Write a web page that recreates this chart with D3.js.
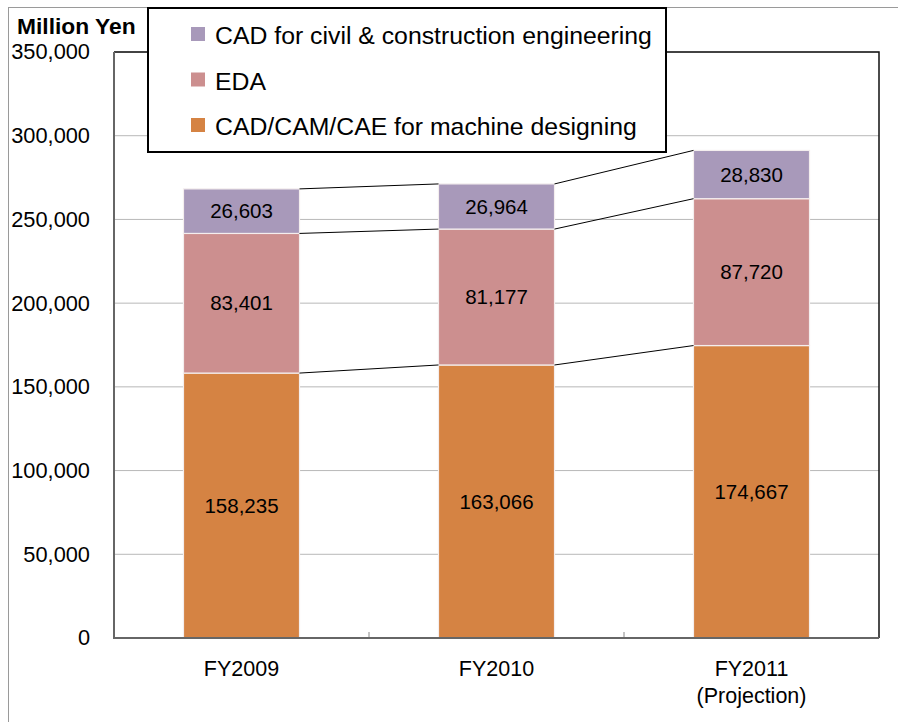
<!DOCTYPE html>
<html>
<head>
<meta charset="utf-8">
<script src="https://cdn.jsdelivr.net/npm/d3@7"></script>
<style>
  body { margin: 0; background: #fff; }
  svg { display: block; font-family: "Liberation Sans", Arial, sans-serif; }
</style>
</head>
<body>
<svg id="chart" width="898" height="722"></svg>
<script>
const years = ['FY2009', 'FY2010', 'FY2011']
const yearLines = [['FY2009'], ['FY2010'], ['FY2011', '(Projection)']]
const seriesNames = ['CAD/CAM/CAE for machine designing', 'EDA', 'CAD for civil & construction engineering']
const machine = [158235, 163066, 174667]
const eda = [83401, 81177, 87720]
const civil = [26603, 26964, 28830]
const yTicks = [0, 50000, 100000, 150000, 200000, 250000, 300000, 350000]
const colors = ['#d58343', '#cc8f8f', '#a899ba']

const margin = { top: 52, right: 19, bottom: 84, left: 114 }
const width = 898
const height = 722

const svg = d3.select('#chart')

// outer frame
svg.append('rect')
  .attr('x', 8.5).attr('y', 7.5)
  .attr('width', 900).attr('height', 740)
  .attr('fill', 'none').attr('stroke', '#9a9a9a').attr('stroke-width', 1)

const rows = years.map((y, i) => ({ year: y, machine: machine[i], eda: eda[i], civil: civil[i] }))
const stack = d3.stack().keys(['machine', 'eda', 'civil'])
const layers = stack(rows)

const xScale = d3.scaleBand()
  .domain(years)
  .range([margin.left, width - margin.right])
  .paddingInner(0.545)
  .paddingOuter(0.2725)

const yScale = d3.scaleLinear()
  .domain([0, 350000])
  .range([height - margin.bottom, margin.top])

// gridlines
svg.append('g')
  .selectAll('line')
  .data(yTicks.slice(1))
  .enter()
  .append('line')
  .attr('x1', margin.left).attr('x2', width - margin.right)
  .attr('y1', d => yScale(d)).attr('y2', d => yScale(d))
  .attr('stroke', '#b8b8b8').attr('stroke-width', 1)

// plot frame (top / right)
svg.append('path')
  .attr('d', `M${margin.left},${margin.top}H${width - margin.right}V${yScale(0)}`)
  .attr('fill', 'none').attr('stroke', '#111').attr('stroke-width', 1.5)

// bars
const layerG = svg.append('g')
  .selectAll('g')
  .data(layers)
  .enter()
  .append('g')
  .attr('fill', (d, i) => colors[i])

layerG.selectAll('rect')
  .data(d => d)
  .enter()
  .append('rect')
  .attr('x', d => xScale(d.data.year))
  .attr('y', d => yScale(d[1]))
  .attr('width', xScale.bandwidth())
  .attr('height', d => yScale(d[0]) - yScale(d[1]))
  .attr('stroke', '#f4eeee').attr('stroke-width', 1.2)

// connector lines between bars
layers.forEach(layer => {
  for (let i = 0; i < layer.length - 1; i++) {
    svg.append('line')
      .attr('x1', xScale(years[i]) + xScale.bandwidth())
      .attr('y1', yScale(layer[i][1]))
      .attr('x2', xScale(years[i + 1]))
      .attr('y2', yScale(layer[i + 1][1]))
      .attr('stroke', '#000').attr('stroke-width', 1)
  }
})

// value labels
layerG.selectAll('text')
  .data(d => d)
  .enter()
  .append('text')
  .attr('x', d => xScale(d.data.year) + xScale.bandwidth() / 2)
  .attr('y', d => (yScale(d[0]) + yScale(d[1])) / 2)
  .attr('dy', '0.35em')
  .attr('text-anchor', 'middle')
  .attr('fill', '#000')
  .attr('font-size', 20.5)
  .text(d => d3.format(',')(d[1] - d[0]))

// y axis labels
const yAxisG = svg.append('g')
  .attr('transform', `translate(${margin.left}, 0)`)
  .call(d3.axisLeft(yScale).tickValues(yTicks).tickFormat(d3.format(',')).tickSize(0).tickPadding(24))
yAxisG.select('.domain').remove()
yAxisG.selectAll('text').attr('font-size', 21.8).attr('fill', '#000').attr('font-family', null)

// x axis
const xAxisG = svg.append('g')
  .attr('transform', `translate(0, ${yScale(0)})`)
  .call(d3.axisBottom(xScale).tickSize(0).tickFormat(''))
xAxisG.select('.domain').remove()
xAxisG.selectAll('.tick').each(function (d, i) {
  const t = d3.select(this).append('text')
    .attr('fill', '#000').attr('font-size', 21.5).attr('text-anchor', 'middle')
  yearLines[i].forEach((s, j) => {
    t.append('tspan').attr('x', 0).attr('y', 38 + j * 27).text(s)
  })
})

// category boundary ticks
svg.append('g')
  .selectAll('line')
  .data(years.slice(1))
  .enter()
  .append('line')
  .attr('x1', d => xScale(d) - xScale.step() * xScale.paddingInner() / 2)
  .attr('x2', d => xScale(d) - xScale.step() * xScale.paddingInner() / 2)
  .attr('y1', yScale(0)).attr('y2', yScale(0) - 6)
  .attr('stroke', '#888').attr('stroke-width', 1)

// left & bottom axis lines
svg.append('path')
  .attr('d', `M${margin.left},${margin.top}V${yScale(0)}H${width - margin.right}`)
  .attr('fill', 'none').attr('stroke', '#666').attr('stroke-width', 2)

// unit title
svg.append('text')
  .attr('x', 17).attr('y', 34)
  .attr('font-size', 22.8).attr('font-weight', 'bold')
  .text('Million Yen')

// legend
const legend = svg.append('g')
legend.append('rect')
  .attr('x', 148).attr('y', 8)
  .attr('width', 518).attr('height', 144)
  .attr('fill', '#fff').attr('stroke', '#000').attr('stroke-width', 2)

const legendOrder = [2, 1, 0]
legendOrder.forEach((k, i) => {
  const base = 44 + i * 45.5
  legend.append('rect')
    .attr('x', 191).attr('y', base - 17)
    .attr('width', 14).attr('height', 14)
    .attr('fill', colors[k])
  legend.append('text')
    .attr('x', 215).attr('y', base)
    .attr('font-size', 24.8)
    .text(seriesNames[k])
})
</script>
</body>
</html>
